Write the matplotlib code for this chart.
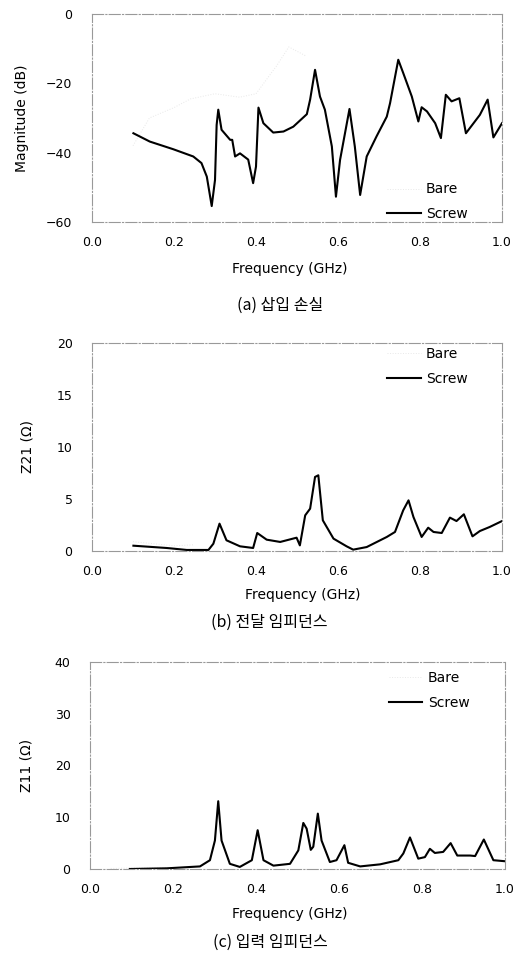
import numpy as np
import matplotlib
matplotlib.use('Agg')
from matplotlib import pyplot as plt

plt.rcParams['font.family'] = ['DejaVu Sans', 'Noto Sans CJK KR']

# (a) 삽입 손실 - Screw
fa = [0.101, 0.141, 0.198, 0.247, 0.267, 0.280, 0.292, 0.300, 0.304, 0.308, 0.316, 0.337,
      0.342, 0.349, 0.361, 0.381, 0.393, 0.400, 0.406, 0.418, 0.442, 0.467, 0.491, 0.524,
      0.532, 0.544, 0.556, 0.568, 0.585, 0.595, 0.605, 0.628, 0.641, 0.654, 0.670, 0.694,
      0.719, 0.727, 0.747, 0.759, 0.780, 0.796, 0.804, 0.817, 0.837, 0.851, 0.863, 0.877,
      0.896, 0.912, 0.946, 0.965, 0.979, 1.0]
sa = [-34.4, -36.8, -39.0, -41.1, -43.0, -46.9, -55.4, -47.9, -32.0, -27.6, -33.4, -36.3,
      -36.3, -41.1, -40.2, -42.0, -48.8, -44.0, -27.0, -31.5, -34.2, -33.9, -32.5, -28.9,
      -24.7, -16.1, -23.8, -27.6, -38.2, -52.7, -42.1, -27.4, -38.2, -52.2, -41.1, -35.3,
      -29.6, -25.7, -13.2, -17.0, -23.8, -31.0, -26.9, -28.1, -31.5, -35.8, -23.3, -25.2,
      -24.3, -34.4, -29.1, -24.7, -35.6, -31.5]
# (a) Bare (faded in the scan)
fa_bare = [0.10, 0.14, 0.20, 0.24, 0.30, 0.36, 0.40, 0.45, 0.48, 0.52]
ba = [-38.0, -30.0, -27.0, -24.5, -23.0, -24.0, -23.0, -15.0, -9.5, -12.0]

# (b) 전달 임피던스 - Screw
fb = [0.101, 0.182, 0.231, 0.284, 0.296, 0.311, 0.328, 0.361, 0.393, 0.403, 0.426, 0.459,
      0.499, 0.507, 0.520, 0.532, 0.544, 0.552, 0.563, 0.589, 0.621, 0.637, 0.670, 0.719,
      0.739, 0.759, 0.772, 0.784, 0.804, 0.820, 0.833, 0.853, 0.873, 0.889, 0.907, 0.928,
      0.946, 0.970, 1.0]
sb = [0.51, 0.29, 0.10, 0.10, 0.70, 2.63, 1.03, 0.45, 0.29, 1.73, 1.09, 0.87,
      1.28, 0.54, 3.43, 4.07, 7.12, 7.28, 2.95, 1.19, 0.45, 0.13, 0.38, 1.35,
      1.83, 3.91, 4.87, 3.27, 1.35, 2.24, 1.83, 1.73, 3.21, 2.88, 3.53, 1.41,
      1.92, 2.31, 2.88]
fb_bare = [0.10, 0.15, 0.20, 0.25]
bb = [0.9, 0.7, 0.5, 0.6]

# (c) 입력 임피던스 - Screw
fc = [0.096, 0.185, 0.265, 0.289, 0.301, 0.309, 0.317, 0.337, 0.361, 0.390, 0.404, 0.418,
      0.442, 0.482, 0.502, 0.514, 0.522, 0.532, 0.538, 0.549, 0.558, 0.578, 0.594, 0.613,
      0.622, 0.651, 0.699, 0.743, 0.755, 0.771, 0.791, 0.807, 0.819, 0.831, 0.851, 0.869,
      0.885, 0.916, 0.928, 0.949, 0.972, 1.0]
sc = [0.0, 0.13, 0.5, 1.7, 5.5, 13.1, 5.5, 1.0, 0.4, 1.7, 7.5, 1.7,
      0.65, 1.0, 3.6, 8.9, 7.8, 3.7, 4.3, 10.7, 5.5, 1.35, 1.7, 4.6,
      1.2, 0.5, 0.9, 1.7, 3.0, 6.1, 2.0, 2.3, 3.9, 3.1, 3.3, 5.0,
      2.6, 2.6, 2.5, 5.7, 1.7, 1.5]
fc_bare = [0.05, 0.10, 0.20]
bc = [0.1, 0.2, 0.3]

xticks = [0.0, 0.2, 0.4, 0.6, 0.8, 1.0]
xticklabels = ['0.0', '0.2', '0.4', '0.6', '0.8', '1.0']

W, H = 519, 958
fig = plt.figure(figsize=(W / 100, H / 100), dpi=100)


def px_axes(l, t, r, b):
    return fig.add_axes([l / W, 1 - b / H, (r - l) / W, (b - t) / H])


panels = [
    dict(box=(92, 14, 502, 222), f=fa, s=sa, fbare=fa_bare, bare=ba, ylim=(-60, 0),
         yticks=[-60, -40, -20, 0], ylabel='Magnitude (dB)', ylx=-0.154,
         xlx=0.483, xly=-0.19, leg=(0.72, 0.19),
         cap='(a) 삽입 손실', capx=280, capy=305),
    dict(box=(92, 343, 502, 551), f=fb, s=sb, fbare=fb_bare, bare=bb, ylim=(0, 20),
         yticks=[0, 5, 10, 15, 20], ylabel='Z21 (Ω)', ylx=-0.141,
         xlx=0.515, xly=-0.18, leg=(0.72, 0.98),
         cap='(b) 전달 임피던스', capx=269, capy=622),
    dict(box=(90, 662, 505, 869), f=fc, s=sc, fbare=fc_bare, bare=bc, ylim=(0, 40),
         yticks=[0, 10, 20, 30, 40], ylabel='Z11 (Ω)', ylx=-0.135,
         xlx=0.482, xly=-0.185, leg=(0.72, 0.955),
         cap='(c) 입력 임피던스', capx=270, capy=942),
]

for p in panels:
    ax = px_axes(*p['box'])
    ax.plot(p['fbare'], p['bare'], color='#e8e8e8', lw=0.7, ls=':', label='Bare')
    ax.plot(p['f'], p['s'], color='black', lw=1.5, label='Screw')
    ax.set_xlim(0, 1)
    ax.set_ylim(*p['ylim'])
    ax.set_xticks(xticks)
    ax.set_xticklabels(xticklabels)
    ax.set_yticks(p['yticks'])
    ax.tick_params(length=0, labelsize=9, pad=10)
    ax.tick_params(axis='y', pad=14)
    for sp in ax.spines.values():
        sp.set_color('#999999')
        sp.set_linewidth(0.8)
        sp.set_linestyle((0, (10, 2, 1, 2)))
    ax.set_ylabel(p['ylabel'], fontsize=10)
    ax.yaxis.set_label_coords(p['ylx'], 0.5)
    ax.set_xlabel('Frequency (GHz)', fontsize=10)
    ax.xaxis.set_label_coords(p['xlx'], p['xly'])
    leg = ax.legend(loc='upper left', bbox_to_anchor=p['leg'], frameon=False,
                    fontsize=10, handlelength=2.4, handletextpad=0.4,
                    labelspacing=0.75, borderpad=0, borderaxespad=0)
    fig.text(p['capx'] / W, 1 - p['capy'] / H, p['cap'], ha='center', va='center',
             fontsize=11.5, family=['Noto Sans CJK KR', 'DejaVu Sans'])

fig.savefig('out.png', dpi=100)
